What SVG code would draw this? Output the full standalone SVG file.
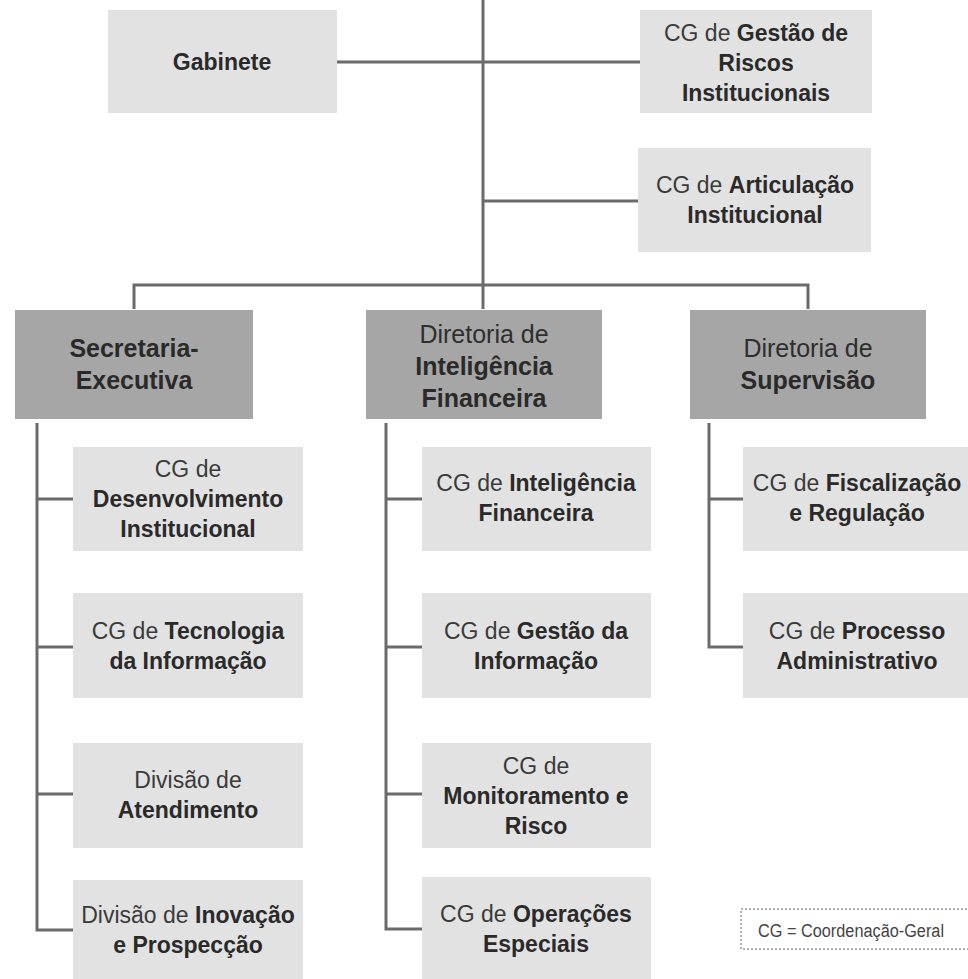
<svg xmlns="http://www.w3.org/2000/svg" width="968" height="979" viewBox="0 0 968 979">
<style>
.lt{fill:#e2e2e2}
.dk{fill:#a6a6a6}
.t{font-family:"Liberation Sans",Arial,sans-serif;font-size:23px;fill:#3a3a3a;text-anchor:middle}
.td{font-family:"Liberation Sans",Arial,sans-serif;font-size:25px;fill:#2e2e2e;text-anchor:middle}
.b{font-weight:bold;fill:#2a2a2a}
.c{stroke:#6b6b6b;stroke-width:3;fill:none}
</style>
<rect width="968" height="979" fill="#ffffff"/>
<g id="connectors" class="c">
<path d="M483 0V285"/>
<path d="M337 62H640"/>
<path d="M483 201H638"/>
<path d="M134 309V285H808V309"/>
<path d="M483 285V309"/>
<path d="M37 423V930H73M37 499H73M37 647H73M37 794H73"/>
<path d="M386 423V929H422M386 499H422M386 647H422M386 794H422"/>
<path d="M709 423V647H743M709 499H743"/>
</g>
<g id="gabinete"><rect class="lt" x="108" y="10" width="229" height="103"/><text class="t b" x="222" y="70">Gabinete</text></g>
<g id="cg-riscos"><rect class="lt" x="640" y="10" width="232" height="103"/><text class="t" x="756" y="41">CG de <tspan class="b">Gestão de</tspan></text><text class="t b" x="756" y="71">Riscos</text><text class="t b" x="756" y="101">Institucionais</text></g>
<g id="cg-articulacao"><rect class="lt" x="638" y="148" width="233" height="104"/><text class="t" x="755" y="193">CG de <tspan class="b">Articulação</tspan></text><text class="t b" x="755" y="223">Institucional</text></g>
<g id="secretaria"><rect class="dk" x="15" y="310" width="238" height="109"/><text class="td b" x="134" y="357">Secretaria-</text><text class="td b" x="134" y="389">Executiva</text></g>
<g id="dir-inteligencia"><rect class="dk" x="366" y="310" width="236" height="109"/><text class="td" x="484" y="343">Diretoria de</text><text class="td b" x="484" y="375">Inteligência</text><text class="td b" x="484" y="407">Financeira</text></g>
<g id="dir-supervisao"><rect class="dk" x="690" y="310" width="236" height="109"/><text class="td" x="808" y="357">Diretoria de</text><text class="td b" x="808" y="389">Supervisão</text></g>
<g id="cg-desenvolvimento"><rect class="lt" x="73" y="447" width="230" height="104"/><text class="t" x="188" y="477">CG de</text><text class="t b" x="188" y="507">Desenvolvimento</text><text class="t b" x="188" y="537">Institucional</text></g>
<g id="cg-tecnologia"><rect class="lt" x="73" y="593" width="230" height="105"/><text class="t" x="188" y="639">CG de <tspan class="b">Tecnologia</tspan></text><text class="t b" x="188" y="669">da Informação</text></g>
<g id="div-atendimento"><rect class="lt" x="73" y="743" width="230" height="105"/><text class="t" x="188" y="788">Divisão de</text><text class="t b" x="188" y="818">Atendimento</text></g>
<g id="div-inovacao"><rect class="lt" x="73" y="880" width="230" height="102"/><text class="t" x="188" y="923">Divisão de <tspan class="b">Inovação</tspan></text><text class="t b" x="188" y="953">e Prospecção</text></g>
<g id="cg-inteligencia"><rect class="lt" x="422" y="447" width="229" height="104"/><text class="t" x="536" y="491">CG de <tspan class="b">Inteligência</tspan></text><text class="t b" x="536" y="521">Financeira</text></g>
<g id="cg-gestao-info"><rect class="lt" x="422" y="593" width="229" height="105"/><text class="t" x="536" y="639">CG de <tspan class="b">Gestão da</tspan></text><text class="t b" x="536" y="669">Informação</text></g>
<g id="cg-monitoramento"><rect class="lt" x="422" y="743" width="229" height="105"/><text class="t" x="536" y="774">CG de</text><text class="t b" x="536" y="804">Monitoramento e</text><text class="t b" x="536" y="834">Risco</text></g>
<g id="cg-operacoes"><rect class="lt" x="422" y="877" width="229" height="105"/><text class="t" x="536" y="922">CG de <tspan class="b">Operações</tspan></text><text class="t b" x="536" y="952">Especiais</text></g>
<g id="cg-fiscalizacao"><rect class="lt" x="743" y="447" width="232" height="104"/><text class="t" x="857" y="491">CG de <tspan class="b">Fiscalização</tspan></text><text class="t b" x="857" y="521">e Regulação</text></g>
<g id="cg-processo"><rect class="lt" x="743" y="593" width="232" height="105"/><text class="t" x="857" y="639">CG de <tspan class="b">Processo</tspan></text><text class="t b" x="857" y="669">Administrativo</text></g>
<g id="legenda"><rect x="741" y="909" width="240" height="40" fill="#ffffff" stroke="#666" stroke-width="1" stroke-dasharray="2 2"/><text x="758" y="937" font-family="'Liberation Sans',Arial,sans-serif" font-size="18" fill="#444" textLength="186" lengthAdjust="spacingAndGlyphs">CG = Coordenação-Geral</text></g>
</svg>
